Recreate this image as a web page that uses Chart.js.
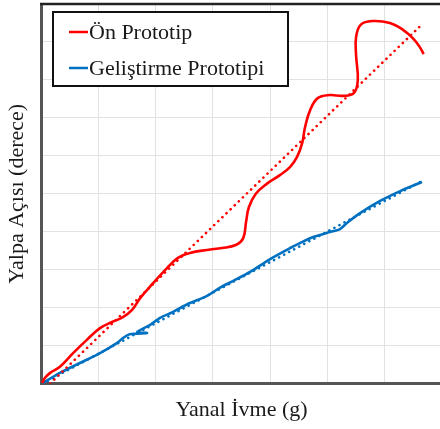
<!DOCTYPE html>
<html>
<head>
<meta charset="utf-8">
<script src="https://cdn.jsdelivr.net/npm/chart.js@4"></script>
<style>
  html, body { margin: 0; padding: 0; background: #fff; overflow: hidden; }
  #wrap { width: 442px; height: 429px; }
</style>
</head>
<body>
<div id="wrap"><canvas id="chart"></canvas></div>
<script>
// (g on x, degrees on y, grid units)
const onX = [0.02, 0.07, 0.16, 0.33, 0.56, 0.80, 1.03, 1.24, 1.43, 1.59, 1.73, 1.96, 2.20, 2.39, 2.60, 2.90, 3.16, 3.40, 3.53, 3.58, 3.63, 3.75, 3.94, 4.17, 4.35, 4.47, 4.56, 4.61, 4.70, 4.83, 5.04, 5.27, 5.46, 5.53, 5.50, 5.50, 5.58, 5.78, 6.09, 6.32, 6.49, 6.61, 6.68];
const onY = [0.01, 0.15, 0.28, 0.44, 0.80, 1.15, 1.46, 1.62, 1.75, 1.94, 2.25, 2.65, 3.04, 3.31, 3.44, 3.52, 3.57, 3.65, 3.83, 4.26, 4.65, 5.00, 5.26, 5.49, 5.71, 5.97, 6.34, 6.76, 7.21, 7.52, 7.60, 7.58, 7.65, 7.99, 8.65, 9.13, 9.45, 9.55, 9.50, 9.32, 9.10, 8.87, 8.68];

const gelX = [0.03, 0.33, 0.68, 1.03, 1.33, 1.43, 1.55, 1.85, 1.68, 1.90, 2.08, 2.30, 2.43, 2.60, 2.90, 3.12, 3.35, 3.65, 4.00, 4.35, 4.52, 4.75, 5.04, 5.22, 5.34, 5.57, 5.92, 6.27, 6.65];
const gelY = [0.01, 0.28, 0.54, 0.80, 1.07, 1.20, 1.30, 1.33, 1.36, 1.54, 1.73, 1.88, 1.99, 2.12, 2.31, 2.52, 2.70, 2.94, 3.28, 3.57, 3.70, 3.86, 3.99, 4.07, 4.23, 4.49, 4.81, 5.07, 5.31];

const onTrendX = [0.16, 6.67];
const onTrendY = [0, 9.49];
const gelTrendX = [0.03, 6.67];
const gelTrendY = [0, 5.35];

const labels = ['Ön Prototip', 'Geliştirme Prototipi'];
const RED = '#ff0000';
const BLUE = '#0070c0';

const pts = (xs, ys) => xs.map((x, i) => ({ x: x, y: ys[i] }));

const font = '"Liberation Serif", "Times New Roman", serif';

// legend box inside the plot + dark top border
const boxLegend = {
  id: 'boxLegend',
  afterDraw(chart) {
    const ctx = chart.ctx;
    const area = chart.chartArea;
    ctx.save();
    ctx.strokeStyle = '#222';
    ctx.lineWidth = 2.5;
    ctx.beginPath();
    ctx.moveTo(area.left - 1, area.top);
    ctx.lineTo(area.right, area.top);
    ctx.stroke();

    ctx.fillStyle = '#fff';
    ctx.fillRect(53, 12, 235, 74);
    ctx.strokeStyle = '#111';
    ctx.lineWidth = 2;
    ctx.strokeRect(53, 12, 235, 74);

    const colors = [RED, BLUE];
    const rows = [32, 68];
    ctx.font = '22px ' + font;
    ctx.textBaseline = 'middle';
    labels.forEach((lab, i) => {
      ctx.strokeStyle = colors[i];
      ctx.lineWidth = 2.5;
      ctx.beginPath();
      ctx.moveTo(69, rows[i]);
      ctx.lineTo(88, rows[i]);
      ctx.stroke();
      ctx.fillStyle = '#1a1a1a';
      ctx.fillText(lab, 89, rows[i] + 1);
    });
    ctx.restore();
  }
};

const ctx = document.getElementById('chart');
new Chart(ctx, {
  type: 'scatter',
  data: {
    datasets: [
      {
        label: labels[0],
        data: pts(onX, onY),
        showLine: true,
        borderColor: RED,
        borderWidth: 2.6,
        pointRadius: 0,
        tension: 0.4
      },
      {
        label: labels[0] + ' trend',
        data: pts(onTrendX, onTrendY),
        showLine: true,
        borderColor: RED,
        borderWidth: 2.6,
        borderDash: [0.1, 5.6],
        borderCapStyle: 'round',
        pointRadius: 0
      },
      {
        label: labels[1],
        data: pts(gelX, gelY),
        showLine: true,
        borderColor: BLUE,
        borderWidth: 2.6,
        pointRadius: 0,
        tension: 0.25
      },
      {
        label: labels[1] + ' trend',
        data: pts(gelTrendX, gelTrendY),
        showLine: true,
        borderColor: BLUE,
        borderWidth: 2.6,
        borderDash: [0.1, 5.6],
        borderCapStyle: 'round',
        pointRadius: 0
      }
    ]
  },
  options: {
    responsive: true,
    maintainAspectRatio: false,
    animation: false,
    layout: { padding: { top: 4, right: 0, left: 0, bottom: 0 } },
    plugins: {
      legend: { display: false },
      tooltip: { enabled: false }
    },
    scales: {
      x: {
        type: 'linear',
        min: 0,
        max: 7,
        ticks: { display: false, stepSize: 1 },
        grid: { color: '#e2e2e2', lineWidth: 1, drawTicks: false },
        border: { color: '#555', width: 3 },
        title: {
          display: true,
          text: 'Yanal İvme (g)',
          color: '#1a1a1a',
          font: { family: font, size: 22 },
          padding: { top: 4, bottom: 6 }
        },
        afterFit(scale) { scale.height = 45.5; }
      },
      y: {
        min: 0,
        max: 10,
        ticks: { display: false, stepSize: 1 },
        grid: { color: '#e2e2e2', lineWidth: 1, drawTicks: false },
        border: { color: '#555', width: 3 },
        title: {
          display: true,
          text: 'Yalpa Açısı (derece)',
          color: '#1a1a1a',
          font: { family: font, size: 22 },
          padding: { top: 4, bottom: 4 }
        },
        afterFit(scale) { scale.width = 41; }
      }
    }
  },
  plugins: [boxLegend]
});
</script>
</body>
</html>
